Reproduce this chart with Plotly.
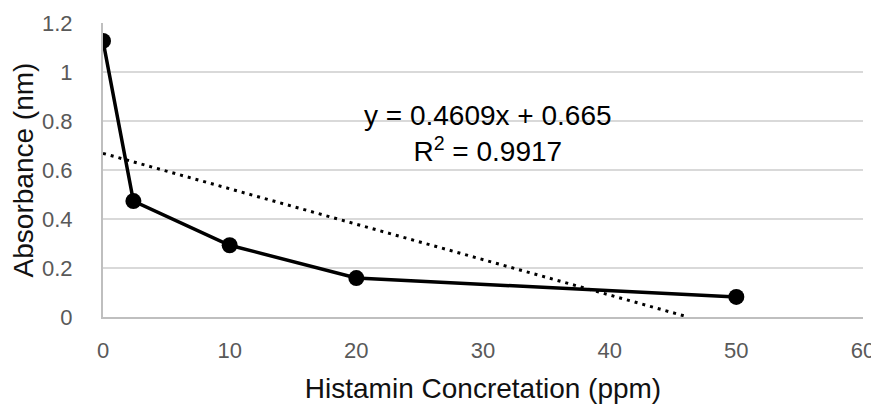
import plotly.graph_objects as go

conc = [0, 2.4, 10, 20, 50]
absorb = [1.127, 0.473, 0.293, 0.159, 0.082]
trend_x = [0, 46.2]
trend_y = [0.668, 0.0]
eq_text = "y = 0.4609x + 0.665<br>R<sup>2</sup> = 0.9917"
x_ticks = [0, 10, 20, 30, 40, 50, 60]
y_ticks = [0, 0.2, 0.4, 0.6, 0.8, 1, 1.2]
y_tick_labels = ["0", "0.2", "0.4", "0.6", "0.8", "1", "1.2"]

FONT = "Liberation Sans, Arial, sans-serif"

fig = go.Figure()
fig.add_trace(go.Scatter(x=trend_x, y=trend_y, mode="lines",
                         line=dict(color="black", width=3, dash="3px,5px"),
                         showlegend=False, hoverinfo="skip"))
fig.add_trace(go.Scatter(x=conc, y=absorb, mode="lines+markers",
                         line=dict(color="black", width=3.5),
                         marker=dict(color="black", size=16),
                         showlegend=False))

fig.add_annotation(x=30.4, y=0.75, xref="x", yref="y", text=eq_text,
                   showarrow=False, align="center",
                   font=dict(family=FONT, size=28, color="black"))

fig.update_xaxes(range=[0, 60], tickvals=x_ticks, showgrid=False,
                 showline=True, linecolor="#bfbfbf", linewidth=2,
                 zeroline=False, ticks="", ticklabelstandoff=13, automargin=False,
                 tickfont=dict(family=FONT, size=22, color="#595959"),
                 title=dict(text="Histamin Concretation (ppm)",
                            font=dict(family=FONT, size=28, color="#111"),
                            standoff=16))
fig.update_yaxes(range=[0, 1.2], tickvals=y_ticks, ticktext=y_tick_labels,
                 showgrid=True, gridcolor="#d9d9d9", gridwidth=1.5,
                 showline=True, linecolor="#bfbfbf", linewidth=2,
                 zeroline=False, ticks="", ticklabelstandoff=24, automargin=False,
                 tickfont=dict(family=FONT, size=22, color="#595959"),
                 title=dict(text="Absorbance (nm)",
                            font=dict(family=FONT, size=28, color="#111"),
                            standoff=4))

fig.update_layout(width=871, height=396, plot_bgcolor="white", paper_bgcolor="white",
                  margin=dict(l=95, r=16, t=15, b=87))
fig.write_html("out.html")
